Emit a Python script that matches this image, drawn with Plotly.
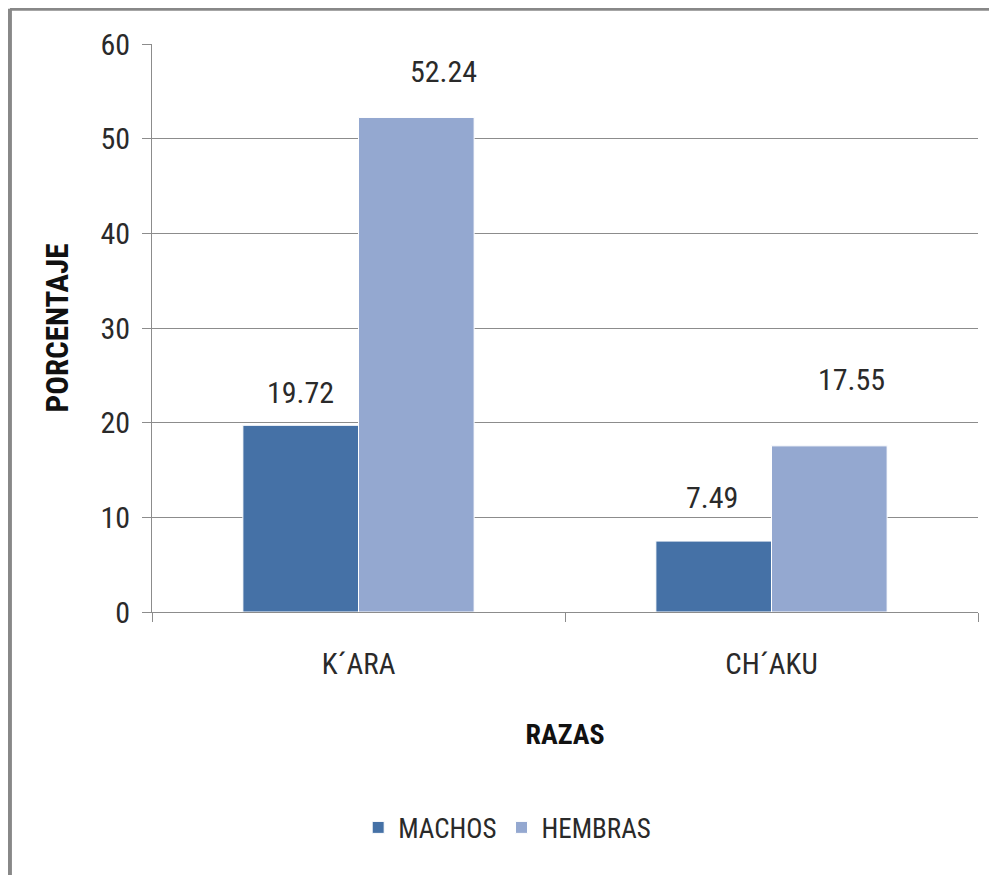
import plotly.graph_objects as go

categories = ["K´ARA", "CH´AKU"]
machos = [19.72, 7.49]
hembras = [52.24, 17.55]
series_names = ["MACHOS", "HEMBRAS"]
y_ticks = [0, 10, 20, 30, 40, 50, 60]

FONT = "Liberation Sans Narrow, Roboto Condensed, Arial Narrow, sans-serif"
C_M = "#4571a6"
C_H = "#94a8d0"
GRID = "#8c8c8c"
TXT = "#2a2a2a"

fig = go.Figure()
fig.add_trace(go.Bar(x=categories, y=machos, name=series_names[0],
                     marker=dict(color=C_M, line=dict(color="white", width=1))))
fig.add_trace(go.Bar(x=categories, y=hembras, name=series_names[1],
                     marker=dict(color=C_H, line=dict(color="white", width=1))))

# value labels (offsets mimic the original placement)
label_shift = {  # (series index, category index): (xshift, yshift)
    (0, 0): (0, 13), (1, 0): (27, 26), (0, 1): (-2, 24), (1, 1): (22, 47)}
for si, vals in enumerate([machos, hembras]):
    for ci, v in enumerate(vals):
        xs, ys = label_shift[(si, ci)]
        fig.add_annotation(x=ci + (-0.14 if si == 0 else 0.14),
                           y=v, text=f"{v:.2f}", showarrow=False,
                           yanchor="bottom", xshift=xs, yshift=ys,
                           font=dict(family=FONT, size=30, color=TXT))

fig.update_layout(
    width=997, height=875,
    margin=dict(l=144, r=27, t=36, b=271),
    paper_bgcolor="white", plot_bgcolor="white",
    barmode="group", bargap=0.44, bargroupgap=0.0,
    font=dict(family=FONT, color=TXT),
    showlegend=True,
    legend=dict(orientation="h", x=0.43, xanchor="center", y=-0.38, yanchor="middle",
                font=dict(family=FONT, size=27, color=TXT), itemwidth=30),
    xaxis=dict(type="category", showgrid=False, showline=True, linecolor=GRID, linewidth=1,
               ticks="outside", tickson="boundaries", ticklen=9, tickcolor=GRID,
               ticklabelstandoff=26,
               tickfont=dict(family=FONT, size=29, color=TXT),
               title=dict(text="<b>RAZAS</b>", font=dict(family=FONT, size=28, color="#111"),
                          standoff=44)),
    yaxis=dict(range=[0, 60], tickvals=y_ticks, showgrid=True, gridcolor=GRID, gridwidth=1,
               showline=True, linecolor=GRID, linewidth=1, zeroline=False,
               ticks="outside", ticklen=9, tickcolor=GRID, ticklabelstandoff=6,
               tickfont=dict(family=FONT, size=30, color=TXT),
               title=dict(text="<b>PORCENTAJE</b>", font=dict(family=FONT, size=31, color="#111"),
                          standoff=22)),
)

# outer frame (top and left edges visible in the original)
fig.add_shape(type="line", xref="paper", yref="paper", x0=-0.172, x1=1.05, y0=1.062, y1=1.062,
              line=dict(color="#888", width=4))
fig.add_shape(type="line", xref="paper", yref="paper", x0=-0.172, x1=-0.172, y0=1.062, y1=-0.5,
              line=dict(color="#888", width=4))

fig.write_html("out.html")
